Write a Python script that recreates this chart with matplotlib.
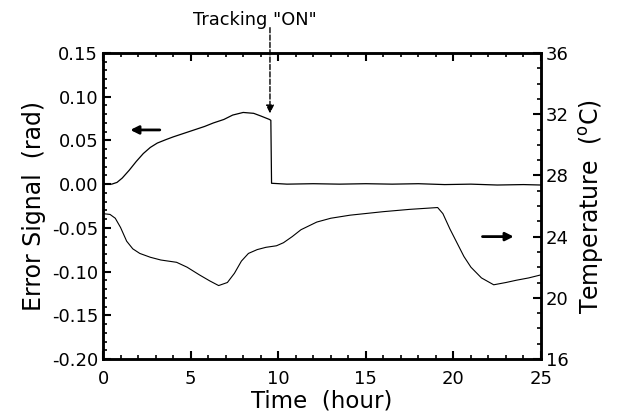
import matplotlib.pyplot as plt
from matplotlib.ticker import MultipleLocator

plt.rcParams["font.family"] = ["DejaVu Sans"]

# error signal (rad)
err_t = [0.0, 0.5, 0.8, 1.1, 1.5, 1.9, 2.3, 2.7, 3.1, 3.6, 4.0, 4.6, 5.2, 5.8, 6.3, 6.9,
         7.4, 8.0, 8.6, 9.0, 9.5, 9.58, 9.62, 10.5, 12.0, 13.5, 15.0, 16.5, 18.0, 19.5,
         21.0, 22.5, 24.0, 25.0]
err_v = [0.0, 0.0, 0.002, 0.007, 0.016, 0.026, 0.035, 0.042, 0.047, 0.051, 0.054, 0.058,
         0.062, 0.066, 0.070, 0.074, 0.079, 0.082, 0.081, 0.078, 0.074, 0.073, 0.001,
         0.0, 0.0005, 0.0, 0.0005, 0.0, 0.0005, -0.0005, 0.0, -0.001, -0.0005, -0.001]

# temperature (deg C)
temp_t = [0.0, 0.4, 0.7, 1.0, 1.35, 1.7, 2.1, 2.7, 3.3, 4.2, 4.8, 5.5, 6.1, 6.6, 7.1,
          7.5, 7.9, 8.3, 8.8, 9.3, 9.9, 10.3, 10.8, 11.3, 12.2, 13.0, 14.1, 16.0, 17.5,
          19.1, 19.4, 19.8, 20.2, 20.6, 21.0, 21.6, 22.3, 23.0, 23.6, 24.3, 25.0]
temp_v = [25.5, 25.45, 25.2, 24.6, 23.7, 23.2, 22.9, 22.65, 22.47, 22.32, 22.0, 21.5,
          21.1, 20.8, 21.0, 21.6, 22.4, 22.9, 23.15, 23.3, 23.4, 23.6, 24.0, 24.45,
          24.95, 25.2, 25.4, 25.63, 25.78, 25.9, 25.5, 24.5, 23.6, 22.7, 22.0, 21.3,
          20.85, 21.0, 21.15, 21.3, 21.5]

fig = plt.figure(figsize=(6.22, 4.19), dpi=100)
ax = fig.add_axes([0.1656, 0.1432, 0.7042, 0.7303])
ax2 = ax.twinx()

ax.plot(err_t, err_v, color="black", lw=0.9)
ax2.plot(temp_t, temp_v, color="black", lw=0.8)

ax.set_xlim(0, 25)
ax.set_ylim(-0.20, 0.15)
ax2.set_ylim(16, 36)

ax.xaxis.set_major_locator(MultipleLocator(5))
ax.xaxis.set_minor_locator(MultipleLocator(1))
ax.yaxis.set_major_locator(MultipleLocator(0.05))
ax.yaxis.set_minor_locator(MultipleLocator(0.01))
ax2.yaxis.set_major_locator(MultipleLocator(4))
ax2.yaxis.set_minor_locator(MultipleLocator(1))
ax.yaxis.set_major_formatter(plt.FormatStrFormatter("%.2f"))

ax.tick_params(axis="x", which="both", direction="in", top=True, labelsize=13, pad=8)
ax.tick_params(axis="y", which="both", direction="in", labelsize=13)
ax2.tick_params(axis="y", which="both", direction="in", labelsize=13)
for a in (ax, ax2):
    a.tick_params(which="major", length=6, width=1.5)
    a.tick_params(which="minor", length=3, width=1.2)
for s in ax.spines.values():
    s.set_linewidth(1.8)
for s in ax2.spines.values():
    s.set_linewidth(1.8)

ax.set_xlabel("Time  (hour)", fontsize=16.5, labelpad=1)
ax.set_ylabel("Error Signal  (rad)", fontsize=17, labelpad=4)
ax2.set_ylabel("Temperature  ($^{\\rm o}$C)", fontsize=17, labelpad=6)

# direction arrows
ax.annotate("", xy=(1.4, 0.062), xytext=(3.4, 0.062),
            arrowprops=dict(arrowstyle="-|>", color="black", lw=2, mutation_scale=12))
ax2.annotate("", xy=(23.6, 24.0), xytext=(21.5, 24.0),
             arrowprops=dict(arrowstyle="-|>", color="black", lw=2, mutation_scale=12))

# tracking on marker
ax.text(8.67, 0.188, "Tracking \"ON\"", ha="center", va="center", fontsize=12.8,
        clip_on=False)
ax.annotate("", xy=(9.53, 0.081), xytext=(9.53, 0.179), annotation_clip=False,
            arrowprops=dict(arrowstyle="-|>", color="black", lw=1, ls="--",
                            mutation_scale=12, shrinkA=0, shrinkB=0))

fig.savefig("out.png", dpi=100)
